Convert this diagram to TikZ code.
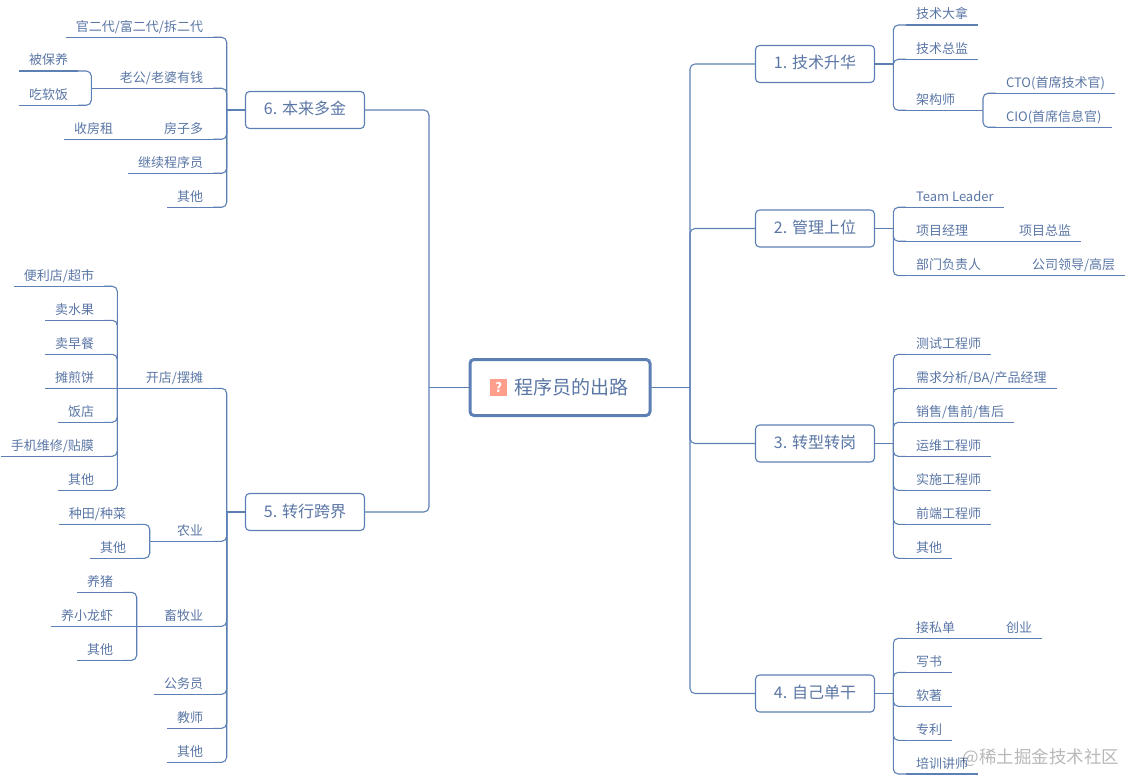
\documentclass[tikz,border=0pt]{standalone}
\usepackage{fontspec}
\setmainfont{Noto Sans CJK SC}
\usepackage{xcolor}
\definecolor{mapline}{RGB}{92,128,180}
\definecolor{maptext}{RGB}{90,118,165}
\definecolor{iconred}{RGB}{255,158,138}

\begin{document}
\begin{tikzpicture}[x=1pt, y=-1pt,
    central/.style={rectangle, rounded corners=4pt, draw=mapline, line width=3pt, fill=white,
                    minimum width=180pt, minimum height=56pt, outer sep=0pt,
                    text=maptext, font=\fontsize{19}{19}\selectfont},
    topic/.style={rectangle, rounded corners=4pt, draw=mapline, line width=1.1pt, fill=white,
                  minimum width=119pt, minimum height=37pt, outer sep=0pt,
                  text height=12pt, text depth=2pt,
                  text=maptext, font=\fontsize{16}{16}\selectfont},
    leaf/.style={inner xsep=10pt, inner ysep=4pt, outer sep=0pt, text height=11pt, text depth=2pt,
                 text=maptext, font=\fontsize{13}{13}\selectfont,
                 append after command={(\tikzlastnode.south west) edge[link] (\tikzlastnode.south east)}},
    rleaf/.style={leaf, anchor=south west},
    lleaf/.style={leaf, anchor=south east},
    link/.style={draw=mapline, line width=1.1pt},
    branch/.style={link, rounded corners=5pt}]

\useasboundingbox (0,0) rectangle (1126,775);

%% ── Centre ───────────────────────────────────────────────────────────────────
\node[central] (root) at (560,387.5) {\hspace*{23pt}程序员的出路};
\node[fill=iconred, text=white, minimum size=17pt, inner sep=0pt,
      font=\fontsize{13}{13}\selectfont\bfseries] (icon) at (498.5,387.5) {?};

%% ── Topics ───────────────────────────────────────────────────────────────────
%% Right column
\node[topic] (tech)   at (815,64)    {1. 技术升华};
\node[topic] (manage) at (815,228.5) {2. 管理上位};
\node[topic] (change) at (815,443.5) {3. 转型转岗};
\node[topic] (solo)   at (815,693.5) {4. 自己单干};

%% Left column
\node[topic] (cross)  at (305,512)   {5. 转行跨界};
\node[topic] (rich)   at (305,110)   {6. 本来多金};

%% Junctions on the vertical lines
\coordinate (jright) at (690,387.5);
\coordinate (jleft)  at (429,387.5);
\coordinate (jtech)   at (893.3,64);
\coordinate (jmanage) at (893.3,228.5);
\coordinate (jchange) at (893.3,443.5);
\coordinate (jsolo)   at (893.3,693.5);
\coordinate (jcross)  at (226.7,512);
\coordinate (jrich)   at (226.7,110);

\draw[link] (root.east) -- (jright);
\draw[link] (root.west) -- (jleft);
\draw[branch] (jright) |- (tech.west);
\draw[branch] (jright) |- (manage.west);
\draw[branch] (jright) |- (change.west);
\draw[branch] (jright) |- (solo.west);
\draw[branch] (jleft) |- (cross.east);
\draw[branch] (jleft) |- (rich.east);
\draw[link] (tech.east) -- (jtech);
\draw[link] (manage.east) -- (jmanage);
\draw[link] (change.east) -- (jchange);
\draw[link] (solo.east) -- (jsolo);
\draw[link] (cross.west) -- (jcross);
\draw[link] (rich.west) -- (jrich);

%% ── 1 ────────────────────────────────────────────────────────────────────────
\node[rleaf] (guru)  at (906,25)    {技术大拿};
\node[rleaf] (chief) at (906,59.3)  {技术总监};
\node[rleaf] (arch)  at (906,110.3) {架构师};
\node[rleaf] (cto)   at (996,93.3)  {CTO(首席技术官)};
\node[rleaf] (cio)   at (996,127.3) {CIO(首席信息官)};
\coordinate (jarch) at (983,110.3);
\draw[branch] (jtech) |- (guru.south west);
\draw[branch] (jtech) |- (chief.south west);
\draw[branch] (jtech) |- (arch.south west);
\draw[link] (arch.south east) -- (jarch);
\draw[branch] (jarch) |- (cto.south west);
\draw[branch] (jarch) |- (cio.south west);

%% ── 2 ────────────────────────────────────────────────────────────────────────
\node[rleaf] (leader) at (906,207.3) {Team Leader};
\node[rleaf] (pm)     at (906,241.3) {项目经理};
\node[rleaf] (pmo)    at (1009,241.3) {项目总监};
\node[rleaf] (dept)   at (906,275.7) {部门负责人};
\node[rleaf] (boss)   at (1022,275.7) {公司领导/高层};
\draw[branch] (jmanage) |- (leader.south west);
\draw[branch] (jmanage) |- (pm.south west);
\draw[branch] (jmanage) |- (dept.south west);
\draw[link] (pm.south east) -- (pmo.south west);
\draw[link] (dept.south east) -- (boss.south west);

%% ── 3 ────────────────────────────────────────────────────────────────────────
\node[rleaf] (tester) at (906,354.3) {测试工程师};
\node[rleaf] (ba)     at (906,388.3) {需求分析/BA/产品经理};
\node[rleaf] (sales)  at (906,422.3) {销售/售前/售后};
\node[rleaf] (ops)    at (906,456.3) {运维工程师};
\node[rleaf] (impl)   at (906,490.3) {实施工程师};
\node[rleaf] (web)    at (906,524.3) {前端工程师};
\node[rleaf] (other3) at (906,558.3) {其他};
\draw[branch] (jchange) |- (tester.south west);
\draw[branch] (jchange) |- (ba.south west);
\draw[branch] (jchange) |- (sales.south west);
\draw[branch] (jchange) |- (ops.south west);
\draw[branch] (jchange) |- (impl.south west);
\draw[branch] (jchange) |- (web.south west);
\draw[branch] (jchange) |- (other3.south west);

%% ── 4 ────────────────────────────────────────────────────────────────────────
\node[rleaf] (gig)     at (906,638.3) {接私单};
\node[rleaf] (startup) at (996,638.3) {创业};
\node[rleaf] (book)    at (906,672.3) {写书};
\node[rleaf] (soft)    at (906,706.3) {软著};
\node[rleaf] (patent)  at (906,740.3) {专利};
\node[rleaf] (trainer) at (906,774)   {培训讲师};
\draw[branch] (jsolo) |- (gig.south west);
\draw[branch] (jsolo) |- (book.south west);
\draw[branch] (jsolo) |- (soft.south west);
\draw[branch] (jsolo) |- (patent.south west);
\draw[branch] (jsolo) |- (trainer.south west);
\draw[link] (gig.south east) -- (startup.south west);

%% ── 5 ────────────────────────────────────────────────────────────────────────
\node[lleaf] (shop)  at (213,388.3) {开店/摆摊};
\node[lleaf] (farm)  at (213,541.3) {农业};
\node[lleaf] (herd)  at (213,626.3) {畜牧业};
\node[lleaf] (civil) at (213,694.3) {公务员};
\node[lleaf] (teach) at (213,728.3) {教师};
\node[lleaf] (other5) at (213,762.3) {其他};
\draw[branch] (jcross) |- (shop.south east);
\draw[branch] (jcross) |- (farm.south east);
\draw[branch] (jcross) |- (herd.south east);
\draw[branch] (jcross) |- (civil.south east);
\draw[branch] (jcross) |- (teach.south east);
\draw[branch] (jcross) |- (other5.south east);

%% Shops
\node[lleaf] (market)  at (104,286.3) {便利店/超市};
\node[lleaf] (fruit)   at (104,320.3) {卖水果};
\node[lleaf] (brunch)  at (104,354.3) {卖早餐};
\node[lleaf] (pancake) at (104,388.3) {摊煎饼};
\node[lleaf] (diner)   at (104,422.3) {饭店};
\node[lleaf] (repair)  at (104,456.3) {手机维修/贴膜};
\node[lleaf] (othershop) at (104,490.3) {其他};
\coordinate (jshop) at (117.3,388.3);
\draw[link] (shop.south west) -- (pancake.south east);
\draw[branch] (jshop) |- (market.south east);
\draw[branch] (jshop) |- (fruit.south east);
\draw[branch] (jshop) |- (brunch.south east);
\draw[branch] (jshop) |- (diner.south east);
\draw[branch] (jshop) |- (repair.south east);
\draw[branch] (jshop) |- (othershop.south east);

%% Farming
\node[lleaf] (crops)     at (136,524.3) {种田/种菜};
\node[lleaf] (otherfarm) at (136,558.3) {其他};
\coordinate (jfarm) at (149.7,541.3);
\draw[link] (farm.south west) -- (jfarm);
\draw[branch] (jfarm) |- (crops.south east);
\draw[branch] (jfarm) |- (otherfarm.south east);

%% Livestock
\node[lleaf] (pig)       at (123,592.3) {养猪};
\node[lleaf] (crayfish)  at (123,626.3) {养小龙虾};
\node[lleaf] (otherherd) at (123,660.3) {其他};
\coordinate (jherd) at (136.7,626.3);
\draw[link] (herd.south west) -- (crayfish.south east);
\draw[branch] (jherd) |- (pig.south east);
\draw[branch] (jherd) |- (otherherd.south east);

%% ── 6 ────────────────────────────────────────────────────────────────────────
\node[lleaf] (heir)   at (213,37.3)  {官二代/富二代/拆二代};
\node[lleaf] (spouse) at (213,88.3)  {老公/老婆有钱};
\node[lleaf] (house)  at (213,139.3) {房子多};
\node[lleaf] (keep)   at (213,173.3) {继续程序员};
\node[lleaf] (other6) at (213,207.3) {其他};
\draw[branch] (jrich) |- (heir.south east);
\draw[branch] (jrich) |- (spouse.south east);
\draw[branch] (jrich) |- (house.south east);
\draw[branch] (jrich) |- (keep.south east);
\draw[branch] (jrich) |- (other6.south east);

\node[lleaf] (rent)   at (123,139.3) {收房租};
\draw[link] (house.south west) -- (rent.south east);

\node[lleaf] (kept)   at (78,71)    {被保养};
\node[lleaf] (softie) at (78,105.3) {吃软饭};
\coordinate (jspouse) at (91.3,88.3);
\draw[link] (spouse.south west) -- (jspouse);
\draw[branch] (jspouse) |- (kept.south east);
\draw[branch] (jspouse) |- (softie.south east);

%% ── Watermark ────────────────────────────────────────────────────────────────
\node[text=black, text opacity=0.28, font=\fontsize{17.5}{17.5}\selectfont, inner sep=0pt]
    (mark) at (1041,758) {@稀土掘金技术社区};

\end{tikzpicture}
\end{document}
